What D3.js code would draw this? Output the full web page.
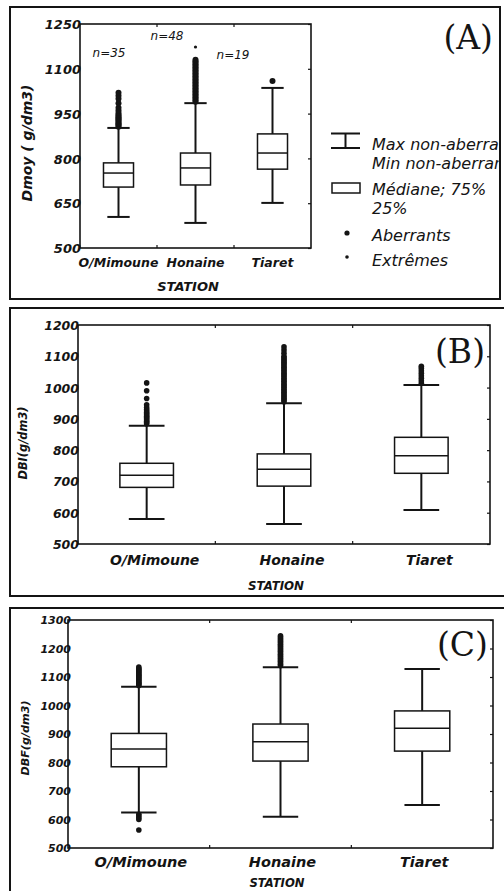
<!DOCTYPE html>
<html>
<head>
<meta charset="utf-8">
<script src="https://cdnjs.cloudflare.com/ajax/libs/d3/7.8.5/d3.min.js"></script>
<style>
  body { margin: 0; background: #fff; }
  svg { display: block; }
</style>
</head>
<body>
<div id="chart"></div>
<script>
(function() {
  'use strict';

  var stations = ['O/Mimoune', 'Honaine', 'Tiaret'];

  // box rows: [min non-aberrant, q1, median, q3, max non-aberrant]
  var dmoyBoxes = [[604, 704, 751, 785, 902], [584, 711, 768, 818, 985], [651, 764, 818, 882, 1036]];
  var dmoyOutliers = [
    [906, 910, 914, 918, 922, 926, 930, 934, 938, 942, 946, 952, 960, 970, 985, 1000, 1010, 1020],
    [990, 995, 1000, 1005, 1010, 1015, 1020, 1025, 1030, 1035, 1040, 1045, 1050, 1055, 1060, 1065,
     1070, 1075, 1080, 1085, 1090, 1095, 1100, 1105, 1110, 1115, 1120, 1125, 1130],
    [1059]
  ];
  var dmoyExtremes = [[], [1173], []];
  var dmoyCounts = ['n=35', 'n=48', 'n=19'];
  var dmoyTicks = [500, 650, 800, 950, 1100, 1250];

  var dbiBoxes = [[580, 681, 720, 758, 878], [564, 685, 739, 788, 950], [609, 726, 782, 841, 1008]];
  var dbiOutliers = [
    [884, 888, 892, 896, 900, 904, 908, 912, 916, 920, 925, 930, 936, 945, 965, 990, 1015],
    [955, 960, 965, 970, 975, 980, 985, 990, 995, 1000, 1005, 1010, 1015, 1020, 1025, 1030, 1035,
     1040, 1045, 1050, 1055, 1060, 1065, 1070, 1075, 1080, 1085, 1090, 1095, 1100, 1110, 1120, 1130],
    [1014, 1022, 1030, 1038, 1046, 1054, 1062, 1068]
  ];
  var dbiTicks = [500, 600, 700, 800, 900, 1000, 1100, 1200];

  var dbfBoxes = [[625, 785, 847, 902, 1066], [610, 805, 873, 935, 1134], [651, 840, 920, 981, 1128]];
  var dbfOutliers = [
    [1070, 1074, 1078, 1082, 1086, 1090, 1094, 1098, 1102, 1106, 1110, 1114, 1118, 1122, 1126, 1130, 1135,
     618, 612, 606, 600, 563],
    [1140, 1145, 1150, 1155, 1160, 1165, 1170, 1175, 1180, 1185, 1190, 1195, 1200, 1205, 1210, 1215,
     1220, 1225, 1230, 1235, 1240, 1245],
    []
  ];
  var dbfTicks = [500, 600, 700, 800, 900, 1000, 1100, 1200, 1300];

  var legendLabels = ['Max non-aberrants', 'Min non-aberrants', 'Médiane; 75%', '25%', 'Aberrants', 'Extrêmes'];

  var ink = '#141414';
  var sans = 'DejaVu Sans, sans-serif';

  var svg = d3.select('#chart').append('svg')
    .attr('width', 504)
    .attr('height', 891);

  // the legend runs into the frame of panel A, as in the scan
  svg.append('defs').append('clipPath')
    .attr('id', 'clipA')
    .append('rect')
    .attr('x', 0).attr('y', 0).attr('width', 500).attr('height', 300);

  drawPanel({
    frame: [10, 7, 490, 292],
    plot: [80, 24, 311, 248],
    ticks: dmoyTicks, boxes: dmoyBoxes, outliers: dmoyOutliers, extremes: dmoyExtremes,
    tickSize: 13, tickShift: 1,
    catSize: 12.5, catY: 267, catDx: 0,
    title: 'STATION', titleX: 188, titleY: 291, titleSize: 13,
    yTitle: 'Dmoy ( g/dm3)', yTitleX: 32, yTitleY: 143, yTitleSize: 14,
    letter: '(A)', letterX: 493, letterY: 49,
    boxFrac: 0.39, capFrac: 0.29, r: 3
  });

  drawPanel({
    frame: [10, 308, 500, 288],
    plot: [78, 325, 490, 544],
    ticks: dbiTicks, boxes: dbiBoxes, outliers: dbiOutliers, extremes: [[], [], []],
    tickSize: 12.5, tickShift: 1,
    catSize: 14, catY: 565, catDx: 8,
    title: 'STATION', titleX: 276, titleY: 590, titleSize: 11.8,
    yTitle: 'DBI(g/dm3)', yTitleX: 27, yTitleY: 443, yTitleSize: 11.4,
    letter: '(B)', letterX: 485, letterY: 363,
    boxFrac: 0.39, capFrac: 0.26, r: 2.8
  });

  drawPanel({
    frame: [10, 608, 500, 300],
    plot: [68, 620, 493, 848],
    ticks: dbfTicks, boxes: dbfBoxes, outliers: dbfOutliers, extremes: [[], [], []],
    tickSize: 11, tickShift: 3,
    catSize: 14.5, catY: 867, catDx: 2,
    title: 'STATION', titleX: 277, titleY: 887, titleSize: 11.6,
    yTitle: 'DBF(g/dm3)', yTitleX: 29, yTitleY: 738, yTitleSize: 11.2,
    letter: '(C)', letterX: 488, letterY: 656,
    boxFrac: 0.39, capFrac: 0.25, r: 2.8
  });

  // sample counts above panel A
  var nPos = [[109, 57], [167, 40], [233, 59]];
  svg.selectAll('text.count')
    .data(dmoyCounts)
    .enter()
    .append('text')
    .attr('class', 'count')
    .attr('x', function(d, i) { return nPos[i][0]; })
    .attr('y', function(d, i) { return nPos[i][1]; })
    .attr('text-anchor', 'middle')
    .attr('font-family', sans)
    .attr('font-style', 'italic')
    .attr('font-size', 12)
    .attr('fill', ink)
    .text(function(d) { return d; });

  drawLegend();

  function drawPanel(p) {
    var g = svg.append('g');
    var x0 = p.plot[0], y0 = p.plot[1], x1 = p.plot[2], y1 = p.plot[3];

    var x = d3.scaleBand().domain(stations).range([x0, x1]);
    var y = d3.scaleLinear().domain(d3.extent(p.ticks)).range([y1, y0]);
    var bw = x.step() * p.boxFrac;
    var cw = x.step() * p.capFrac;

    g.append('rect')
      .attr('x', p.frame[0]).attr('y', p.frame[1])
      .attr('width', p.frame[2]).attr('height', p.frame[3])
      .attr('fill', 'none')
      .attr('stroke', ink)
      .attr('stroke-width', 2);

    g.append('rect')
      .attr('x', x0).attr('y', y0)
      .attr('width', x1 - x0).attr('height', y1 - y0)
      .attr('fill', 'none')
      .attr('stroke', ink)
      .attr('stroke-width', 1.6);

    // small inward ticks on the right edge
    var right = g.append('g')
      .attr('transform', 'translate(' + x1 + ',0)')
      .call(d3.axisLeft(y).tickValues(p.ticks).tickSize(3).tickFormat(''));
    right.select('.domain').remove();
    right.selectAll('line').attr('stroke', ink).attr('stroke-width', 1.2);

    // band boundary ticks on top and bottom
    var edges = stations.slice(1);
    [y0, y1].forEach(function(yy, k) {
      g.selectAll(null)
        .data(edges)
        .enter()
        .append('line')
        .attr('x1', function(d) { return x(d); })
        .attr('x2', function(d) { return x(d); })
        .attr('y1', yy)
        .attr('y2', k === 0 ? yy + 3 : yy - 3)
        .attr('stroke', ink)
        .attr('stroke-width', 1.2);
    });

    // y tick labels, overlapping the axis a little
    var left = g.append('g')
      .attr('transform', 'translate(' + x0 + ',0)')
      .call(d3.axisLeft(y).tickValues(p.ticks).tickSize(0)
        .tickPadding(-p.tickShift).tickFormat(d3.format('d')));
    left.select('.domain').remove();
    left.attr('font-family', sans).attr('font-size', null);
    left.selectAll('text')
      .attr('font-size', p.tickSize)
      .attr('font-style', 'italic')
      .attr('font-weight', 'bold')
      .attr('fill', ink)
      .attr('dy', '0.36em');

    // category labels
    var bottom = g.append('g')
      .attr('transform', 'translate(0,' + y1 + ')')
      .call(d3.axisBottom(x).tickSize(0));
    bottom.select('.domain').remove();
    bottom.attr('font-family', sans).attr('font-size', null);
    bottom.selectAll('text')
      .attr('y', p.catY - y1)
      .attr('dy', null)
      .attr('dx', p.catDx)
      .attr('font-size', p.catSize)
      .attr('font-style', 'italic')
      .attr('font-weight', 'bold')
      .attr('fill', ink);

    g.append('text')
      .attr('x', p.titleX).attr('y', p.titleY)
      .attr('text-anchor', 'middle')
      .attr('font-family', sans)
      .attr('font-style', 'italic')
      .attr('font-weight', 'bold')
      .attr('font-size', p.titleSize)
      .attr('fill', ink)
      .text(p.title);

    g.append('text')
      .attr('transform', 'translate(' + p.yTitleX + ',' + p.yTitleY + ') rotate(-90)')
      .attr('text-anchor', 'middle')
      .attr('font-family', sans)
      .attr('font-style', 'italic')
      .attr('font-weight', 'bold')
      .attr('font-size', p.yTitleSize)
      .attr('fill', ink)
      .text(p.yTitle);

    g.append('text')
      .attr('x', p.letterX).attr('y', p.letterY)
      .attr('text-anchor', 'end')
      .attr('font-family', 'DejaVu Serif, serif')
      .attr('font-size', 33)
      .attr('fill', ink)
      .text(p.letter);

    var st = g.selectAll('g.station')
      .data(stations)
      .enter()
      .append('g')
      .attr('class', 'station')
      .attr('transform', function(d) {
        return 'translate(' + (x(d) + x.step() / 2) + ',0)';
      });

    // whiskers
    st.append('line')
      .attr('x1', 0).attr('x2', 0)
      .attr('y1', function(d, i) { return y(p.boxes[i][0]); })
      .attr('y2', function(d, i) { return y(p.boxes[i][4]); })
      .attr('stroke', ink)
      .attr('stroke-width', 2);

    st.selectAll('line.cap')
      .data(function(d, i) { return [p.boxes[i][0], p.boxes[i][4]]; })
      .enter()
      .append('line')
      .attr('class', 'cap')
      .attr('x1', -cw / 2).attr('x2', cw / 2)
      .attr('y1', function(v) { return y(v); })
      .attr('y2', function(v) { return y(v); })
      .attr('stroke', ink)
      .attr('stroke-width', 2);

    st.append('rect')
      .attr('x', -bw / 2)
      .attr('width', bw)
      .attr('y', function(d, i) { return y(p.boxes[i][3]); })
      .attr('height', function(d, i) { return y(p.boxes[i][1]) - y(p.boxes[i][3]); })
      .attr('fill', '#fff')
      .attr('stroke', ink)
      .attr('stroke-width', 1.5);

    st.append('line')
      .attr('x1', -bw / 2).attr('x2', bw / 2)
      .attr('y1', function(d, i) { return y(p.boxes[i][2]); })
      .attr('y2', function(d, i) { return y(p.boxes[i][2]); })
      .attr('stroke', ink)
      .attr('stroke-width', 1.5);

    st.selectAll('circle.out')
      .data(function(d, i) { return p.outliers[i]; })
      .enter()
      .append('circle')
      .attr('class', 'out')
      .attr('cx', 0)
      .attr('cy', function(v) { return y(v); })
      .attr('r', p.r)
      .attr('fill', ink);

    st.selectAll('circle.ext')
      .data(function(d, i) { return p.extremes[i]; })
      .enter()
      .append('circle')
      .attr('class', 'ext')
      .attr('cx', 0)
      .attr('cy', function(v) { return y(v); })
      .attr('r', 1.6)
      .attr('fill', ink);
  }

  function drawLegend() {
    var lg = svg.append('g').attr('clip-path', 'url(#clipA)');

    // whisker symbol
    lg.append('path')
      .attr('d', 'M331,133.5H360M345.5,133.5V148M331,148H360')
      .attr('fill', 'none')
      .attr('stroke', ink)
      .attr('stroke-width', 2);

    // box symbol
    lg.append('rect')
      .attr('x', 332).attr('y', 183)
      .attr('width', 28).attr('height', 10)
      .attr('fill', '#fff')
      .attr('stroke', ink)
      .attr('stroke-width', 1.5);

    lg.append('circle').attr('cx', 347).attr('cy', 233).attr('r', 2.6).attr('fill', ink);
    lg.append('circle').attr('cx', 347).attr('cy', 257).attr('r', 1.8).attr('fill', ink);

    var rows = [150, 169, 195, 214, 241, 266];
    lg.selectAll('text.leg')
      .data(legendLabels)
      .enter()
      .append('text')
      .attr('class', 'leg')
      .attr('x', 372)
      .attr('y', function(d, i) { return rows[i]; })
      .attr('font-family', sans)
      .attr('font-style', 'italic')
      .attr('font-size', 16)
      .attr('fill', ink)
      .text(function(d) { return d; });
  }

})();
</script>
</body>
</html>
